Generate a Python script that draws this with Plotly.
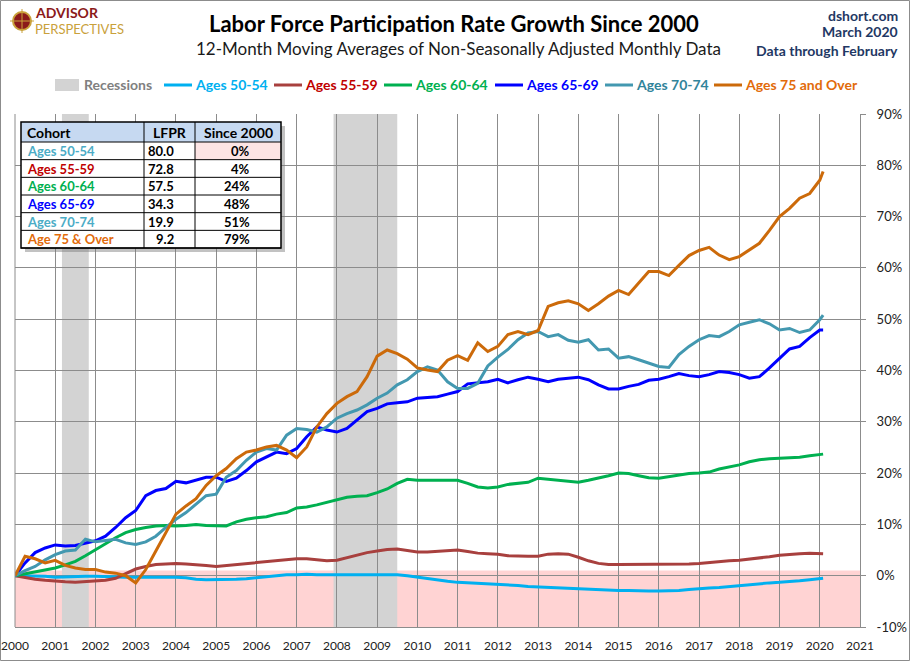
import plotly.graph_objects as go

# ---------------- data ----------------
years = [2000 + i / 4 for i in range(81)] + [2020 + 1 / 12]

ages_50_54 = [0, 0.0, 0.0, -0.1, -0.3, -0.2, -0.1, -0.1, -0.1, -0.2, -0.3, -0.3,
              -0.3, -0.3, -0.3, -0.2, -0.3, -0.4, -0.7, -0.8, -0.8, -0.8, -0.7, -0.6,
              -0.4, -0.2, 0.0, 0.2, 0.2, 0.3, 0.2, 0.2, 0.3, 0.3, 0.3, 0.3,
              0.3, 0.3, 0.2, 0.0, -0.3, -0.6, -0.8, -1.1, -1.3, -1.4, -1.5, -1.6,
              -1.6, -1.8, -1.9, -2.1, -2.2, -2.3, -2.4, -2.5, -2.6, -2.7, -2.8, -2.8,
              -2.9, -2.9, -3.0, -3.0, -3.0, -3.0, -2.9, -2.7, -2.5, -2.4, -2.3, -2.1,
              -2.0, -1.8, -1.6, -1.4, -1.3, -1.2, -1.0, -0.8, -0.6, -0.5]

ages_55_59 = [0, -0.4, -0.7, -0.9, -1.1, -1.2, -1.3, -1.2, -1.1, -0.9, -0.5, 0.4,
              1.3, 1.8, 2.2, 2.3, 2.4, 2.3, 2.2, 2.0, 1.8, 2.0, 2.2, 2.4,
              2.6, 2.8, 3.0, 3.2, 3.3, 3.3, 3.1, 2.9, 3.0, 3.5, 3.9, 4.5,
              4.8, 5.1, 5.2, 4.9, 4.6, 4.6, 4.7, 4.9, 5.0, 4.7, 4.4, 4.3,
              4.2, 3.9, 3.8, 3.8, 3.8, 4.2, 4.3, 4.2, 3.6, 2.9, 2.4, 2.2,
              2.2, 2.2, 2.2, 2.2, 2.2, 2.2, 2.2, 2.3, 2.4, 2.6, 2.8, 2.9,
              3.0, 3.2, 3.4, 3.7, 4.0, 4.2, 4.3, 4.4, 4.3, 4.3]

ages_60_64 = [0, 0.4, 0.7, 1.1, 1.5, 2.1, 2.8, 3.9, 5.1, 6.3, 7.4, 8.4,
              9.0, 9.4, 9.7, 9.8, 9.7, 9.8, 10.0, 9.8, 9.7, 9.7, 10.5, 11.0,
              11.3, 11.5, 12.0, 12.3, 13.2, 13.4, 13.8, 14.3, 14.7, 15.3, 15.5, 15.6,
              16.2, 16.9, 18.0, 18.8, 18.6, 18.6, 18.7, 18.7, 18.6, 18.0, 17.3, 17.1,
              17.3, 17.8, 18.0, 18.2, 19.0, 18.8, 18.7, 18.4, 18.2, 18.6, 19.0, 19.5,
              20.0, 19.9, 19.5, 19.1, 19.0, 19.3, 19.7, 19.9, 20.0, 20.2, 20.8, 21.2,
              21.6, 22.2, 22.6, 22.8, 22.9, 23.0, 23.1, 23.4, 23.7, 23.7]

ages_65_69 = [0, 2.5, 4.5, 5.4, 6.0, 5.8, 5.9, 6.3, 6.8, 7.7, 9.4, 11.3,
              12.7, 15.6, 16.6, 17.0, 18.4, 18.1, 18.6, 19.2, 19.2, 18.4, 19.0, 20.5,
              22.2, 23.1, 24.1, 23.8, 24.8, 27.1, 29.0, 28.4, 28.0, 28.7, 30.3, 32.0,
              32.6, 33.5, 33.7, 33.9, 34.6, 34.8, 34.9, 35.4, 35.9, 37.4, 37.6, 37.8,
              38.3, 37.6, 38.2, 38.7, 38.3, 37.8, 38.3, 38.5, 38.7, 38.2, 37.2, 36.4,
              36.4, 36.9, 37.3, 38.1, 38.3, 38.8, 39.4, 39.0, 38.8, 39.2, 39.8, 39.6,
              39.2, 38.5, 38.8, 40.5, 42.4, 44.2, 44.7, 46.4, 47.9, 47.9]

ages_70_74 = [0, 1.0, 1.8, 3.1, 4.1, 4.8, 5.0, 7.1, 6.6, 6.8, 7.1, 6.4,
              6.1, 6.6, 7.7, 9.4, 11.0, 12.3, 14.0, 15.6, 15.9, 19.2, 20.5, 22.5,
              24.1, 24.8, 24.5, 27.4, 28.7, 28.5, 28.0, 29.0, 30.7, 31.6, 32.3, 33.3,
              34.6, 35.6, 37.2, 38.2, 39.8, 40.7, 40.1, 37.8, 36.5, 36.5, 37.5, 40.9,
              42.6, 44.1, 46.0, 47.3, 47.6, 46.6, 47.0, 45.9, 45.5, 46.0, 44.0, 44.2,
              42.4, 42.7, 42.1, 41.4, 40.8, 40.6, 43.1, 44.7, 46.0, 46.8, 46.6, 47.6,
              48.9, 49.4, 49.9, 49.1, 47.9, 48.2, 47.4, 47.9, 49.9, 50.8]

ages_75_over = [0, 3.8, 3.3, 2.5, 3.0, 2.0, 1.5, 1.2, 1.2, 0.7, 0.5, 0.0,
                -1.4, 1.2, 4.8, 8.4, 12.0, 13.6, 15.0, 17.6, 19.5, 20.9, 22.8, 24.1,
                24.5, 25.1, 25.4, 24.5, 23.0, 25.1, 29.0, 31.6, 33.6, 34.9, 35.9, 38.8,
                42.8, 44.0, 43.3, 42.2, 40.5, 40.1, 39.8, 42.0, 42.9, 42.0, 45.4, 43.7,
                44.7, 47.0, 47.6, 47.0, 47.8, 52.5, 53.2, 53.6, 53.0, 51.7, 53.0, 54.5,
                55.6, 54.8, 57.0, 59.3, 59.3, 58.5, 60.5, 62.4, 63.4, 64.0, 62.5, 61.6,
                62.2, 63.5, 64.8, 67.3, 70.0, 71.6, 73.6, 74.5, 77.1, 78.8]

series_names = ["Ages 50-54", "Ages 55-59", "Ages 60-64", "Ages 65-69", "Ages 70-74", "Ages 75 and Over"]
series_values = [ages_50_54, ages_55_59, ages_60_64, ages_65_69, ages_70_74, ages_75_over]

recession_starts = [2001 + 2 / 12, 2007 + 11 / 12]
recession_ends = [2001 + 10 / 12, 2009 + 6 / 12]

table_cohorts = ["Ages 50-54", "Ages 55-59", "Ages 60-64", "Ages 65-69", "Ages 70-74", "Age 75 & Over"]
table_lfpr = ["80.0", "72.8", "57.5", "34.3", "19.9", "9.2"]
table_since = ["0%", "4%", "24%", "48%", "51%", "79%"]

x_ticks = list(range(2000, 2022))
y_ticks = list(range(-10, 91, 10))

# ---------------- styles ----------------
line_colors = ["#00B0F0", "#A8403E", "#00B050", "#0000FF", "#4398B0", "#CC6A0A"]
legend_text_colors = ["#00B0F0", "#C00000", "#00B050", "#0000FF", "#31849B", "#E26B0A"]
table_text_colors = ["#4BACC6", "#C00000", "#00B050", "#0000FF", "#4BACC6", "#E26B0A"]
FONT = "Lato"

W, H = 910, 661
L, R, T, B = 15, 860, 114, 627


def px(x):
    return (x - L) / (R - L)


def py(y):
    return (B - y) / (B - T)


fig = go.Figure()

for name, vals, col in zip(series_names, series_values, line_colors):
    fig.add_trace(go.Scatter(x=years, y=vals, mode="lines", name=name,
                             line=dict(color=col, width=3), showlegend=False,
                             hoverinfo="skip"))

shapes = []
annotations = []

# pink negative band
shapes.append(dict(type="rect", xref="paper", yref="y", x0=0, x1=1, y0=-10, y1=1,
                   fillcolor="#FFD3D3", line=dict(width=0), layer="below"))
# recessions
for s, e in zip(recession_starts, recession_ends):
    shapes.append(dict(type="rect", xref="x", yref="paper", x0=s, x1=e, y0=0, y1=1,
                       fillcolor="#D3D3D3", line=dict(width=0), layer="below"))

# outer frame
shapes.append(dict(type="rect", xref="paper", yref="paper",
                   x0=px(0.5), x1=px(W - 0.5), y0=py(H - 0.5), y1=py(0.5),
                   line=dict(color="#8C8C8C", width=1), fillcolor="rgba(0,0,0,0)"))

# title texts
annotations.append(dict(text="<b>Labor Force Participation Rate Growth Since 2000</b>",
                        xref="paper", yref="paper", x=px(454), y=py(23), showarrow=False,
                        xanchor="center", yanchor="middle",
                        font=dict(family=FONT, size=22, color="#000000")))
annotations.append(dict(text="12-Month Moving Averages of Non-Seasonally Adjusted Monthly Data",
                        xref="paper", yref="paper", x=px(458), y=py(49), showarrow=False,
                        xanchor="center", yanchor="middle",
                        font=dict(family=FONT, size=17, color="#1a1a1a")))
for txt, yy in [("dshort.com", 15), ("March 2020", 32), ("Data through February", 50)]:
    annotations.append(dict(text="<b>" + txt + "</b>", xref="paper", yref="paper",
                            x=px(900), y=py(yy), showarrow=False, xanchor="right",
                            yanchor="middle", font=dict(family=FONT, size=14, color="#1F3864")))

# logo
shapes.append(dict(type="circle", xref="paper", yref="paper", x0=px(13), x1=px(31),
                   y0=py(30), y1=py(12), fillcolor="#8B1A1A", line=dict(color="#C9A13B", width=2)))
shapes.append(dict(type="line", xref="paper", yref="paper", x0=px(22), x1=px(22),
                   y0=py(33), y1=py(9), line=dict(color="#C9A13B", width=1)))
shapes.append(dict(type="line", xref="paper", yref="paper", x0=px(10), x1=px(34),
                   y0=py(21), y1=py(21), line=dict(color="#C9A13B", width=1)))
annotations.append(dict(text="<b>ADVISOR</b>", xref="paper", yref="paper", x=px(33), y=py(12.5),
                        showarrow=False, xanchor="left", yanchor="middle",
                        font=dict(family=FONT, size=14, color="#8B1A1A")))
annotations.append(dict(text="PERSPECTIVES", xref="paper", yref="paper", x=px(33), y=py(29.5),
                        showarrow=False, xanchor="left", yanchor="middle",
                        font=dict(family=FONT, size=13, color="#C9A13B")))

# legend
leg_y = 85
shapes.append(dict(type="rect", xref="paper", yref="paper", x0=px(55), x1=px(79),
                   y0=py(leg_y + 6), y1=py(leg_y - 6), fillcolor="#D3D3D3", line=dict(width=0)))
annotations.append(dict(text="<b>Recessions</b>", xref="paper", yref="paper", x=px(82), y=py(leg_y),
                        showarrow=False, xanchor="left", yanchor="middle",
                        font=dict(family=FONT, size=14, color="#808080")))
leg_x = [164, 274, 384, 495, 605, 714]
for name, lx, lc, tc in zip(series_names, leg_x, line_colors, legend_text_colors):
    shapes.append(dict(type="line", xref="paper", yref="paper", x0=px(lx), x1=px(lx + 28),
                       y0=py(leg_y), y1=py(leg_y), line=dict(color=lc, width=3)))
    annotations.append(dict(text="<b>" + name + "</b>", xref="paper", yref="paper",
                            x=px(lx + 29), y=py(leg_y), showarrow=False, xanchor="left",
                            yanchor="middle", font=dict(family=FONT, size=14, color=tc)))

# table
tx0, tx1, tx2, tx3 = 21, 144, 195, 281
ty0 = 122
hdr_h = 20
row_h = 17.67
ty_end = ty0 + hdr_h + row_h * len(table_cohorts)
shapes.append(dict(type="rect", xref="paper", yref="paper", x0=px(tx0 + 4), x1=px(tx3 + 4),
                   y0=py(ty_end + 4), y1=py(ty0 + 4), fillcolor="rgba(120,120,120,0.45)",
                   line=dict(width=0), layer="above"))
shapes.append(dict(type="rect", xref="paper", yref="paper", x0=px(tx0), x1=px(tx3),
                   y0=py(ty_end), y1=py(ty0), fillcolor="#FFFFFF",
                   line=dict(width=0), layer="above"))
shapes.append(dict(type="rect", xref="paper", yref="paper", x0=px(tx0), x1=px(tx3),
                   y0=py(ty0 + hdr_h), y1=py(ty0), fillcolor="#C6D9F1",
                   line=dict(width=0), layer="above"))
# pink cell for the 0% value
shapes.append(dict(type="rect", xref="paper", yref="paper", x0=px(tx2), x1=px(tx3),
                   y0=py(ty0 + hdr_h + row_h), y1=py(ty0 + hdr_h), fillcolor="#FCE4E4",
                   line=dict(width=0), layer="above"))
# grid lines of table
for k in range(len(table_cohorts) + 1):
    yy = ty0 + hdr_h + row_h * k
    shapes.append(dict(type="line", xref="paper", yref="paper", x0=px(tx0), x1=px(tx3),
                       y0=py(yy), y1=py(yy), line=dict(color="#000000", width=1), layer="above"))
for xx in [tx1, tx2]:
    shapes.append(dict(type="line", xref="paper", yref="paper", x0=px(xx), x1=px(xx),
                       y0=py(ty_end), y1=py(ty0), line=dict(color="#000000", width=1), layer="above"))
shapes.append(dict(type="rect", xref="paper", yref="paper", x0=px(tx0), x1=px(tx3),
                   y0=py(ty_end), y1=py(ty0), line=dict(color="#000000", width=1.5),
                   fillcolor="rgba(0,0,0,0)", layer="above"))

hy = ty0 + hdr_h / 2
annotations.append(dict(text="<b>Cohort</b>", xref="paper", yref="paper", x=px(tx0 + 4), y=py(hy),
                        showarrow=False, xanchor="left", yanchor="middle",
                        font=dict(family=FONT, size=14, color="#000000")))
annotations.append(dict(text="<b>LFPR</b>", xref="paper", yref="paper", x=px((tx1 + tx2) / 2), y=py(hy),
                        showarrow=False, xanchor="center", yanchor="middle",
                        font=dict(family=FONT, size=14, color="#000000")))
annotations.append(dict(text="<b>Since 2000</b>", xref="paper", yref="paper", x=px((tx2 + tx3) / 2), y=py(hy),
                        showarrow=False, xanchor="center", yanchor="middle",
                        font=dict(family=FONT, size=14, color="#000000")))
for i, (c, v, s) in enumerate(zip(table_cohorts, table_lfpr, table_since)):
    ry = ty0 + hdr_h + row_h * (i + 0.5)
    annotations.append(dict(text="<b>" + c + "</b>", xref="paper", yref="paper", x=px(tx0 + 4), y=py(ry),
                            showarrow=False, xanchor="left", yanchor="middle",
                            font=dict(family=FONT, size=13, color=table_text_colors[i])))
    annotations.append(dict(text="<b>" + v + "</b>", xref="paper", yref="paper", x=px(176), y=py(ry),
                            showarrow=False, xanchor="right", yanchor="middle",
                            font=dict(family=FONT, size=13, color="#000000")))
    annotations.append(dict(text="<b>" + s + "</b>", xref="paper", yref="paper", x=px(252), y=py(ry),
                            showarrow=False, xanchor="right", yanchor="middle",
                            font=dict(family=FONT, size=13, color="#000000")))

fig.update_layout(
    width=W, height=H,
    margin=dict(l=L, r=W - R, t=T, b=H - B, pad=0, autoexpand=False),
    paper_bgcolor="#FFFFFF", plot_bgcolor="#FFFFFF",
    shapes=shapes, annotations=annotations,
    showlegend=False,
    xaxis=dict(range=[2000, 2021], tickmode="array", tickvals=x_ticks,
               ticktext=[str(t) for t in x_ticks], showgrid=True, gridcolor="#8C8C8C",
               gridwidth=1, zeroline=False, showline=True, linecolor="#8C8C8C",
               mirror=False, ticks="outside", ticklen=8, tickcolor="rgba(0,0,0,0)",
               automargin=False,
               tickfont=dict(family=FONT, size=12, color="#222222")),
    yaxis=dict(range=[-10, 90], side="right", tickmode="array", tickvals=y_ticks,
               ticktext=[f"{t}%" for t in y_ticks], showgrid=True, gridcolor="#8C8C8C",
               gridwidth=1, zeroline=False, showline=True, linecolor="#8C8C8C",
               ticks="outside", ticklen=5, tickcolor="#8C8C8C", ticklabelstandoff=8,
               automargin=False,
               tickfont=dict(family=FONT, size=13, color="#222222")),
)
# left border of plot
fig.add_shape(type="line", xref="paper", yref="paper", x0=0, x1=0, y0=0, y1=1,
              line=dict(color="#8C8C8C", width=1))

fig.write_html("out.html")
